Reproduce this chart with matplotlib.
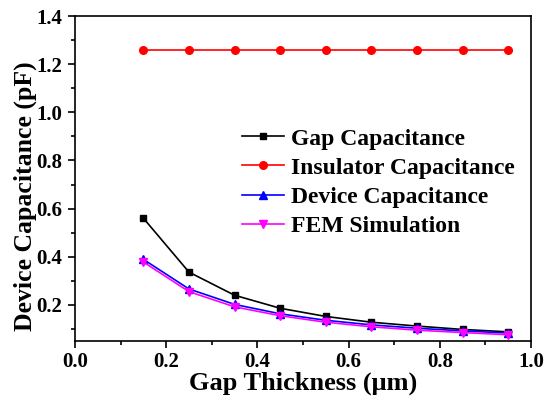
import matplotlib
matplotlib.use("Agg")
import matplotlib.pyplot as plt
from matplotlib.ticker import MultipleLocator

plt.rcParams['font.family'] = ['Liberation Serif', 'DejaVu Serif']
plt.rcParams['font.weight'] = 'bold'

# gap thickness (um)
gap = [0.15, 0.25, 0.35, 0.45, 0.55, 0.65, 0.75, 0.85, 0.95]
gap_cap = [0.560, 0.336, 0.240, 0.186, 0.152, 0.128, 0.112, 0.098, 0.088]
ins_cap = [1.26, 1.26, 1.26, 1.26, 1.26, 1.26, 1.26, 1.26, 1.26]
dev_cap = [0.389, 0.266, 0.202, 0.163, 0.136, 0.117, 0.103, 0.092, 0.083]
fem_sim = [0.378, 0.255, 0.192, 0.155, 0.128, 0.109, 0.095, 0.085, 0.076]

fig = plt.figure(figsize=(5.44, 4.0), dpi=100)
ax = fig.add_axes([75 / 544, 1 - 341 / 400, 456 / 544, 325 / 400])

ax.plot(gap, gap_cap, color="black", marker="s", ms=5, lw=1.2, label="Gap Capacitance")
ax.plot(gap, ins_cap, color="red", marker="o", ms=5.5, lw=1.2, label="Insulator Capacitance")
ax.plot(gap, dev_cap, color="blue", marker="^", ms=6, lw=1.2, label="Device Capacitance")
ax.plot(gap, fem_sim, color="magenta", marker="v", ms=6, lw=1.2, label="FEM Simulation")

ax.set_xlim(0.0, 1.0)
ax.set_ylim(0.05, 1.4)
ax.xaxis.set_major_locator(MultipleLocator(0.2))
ax.xaxis.set_minor_locator(MultipleLocator(0.1))
ax.yaxis.set_minor_locator(MultipleLocator(0.1))
ax.set_yticks([0.2, 0.4, 0.6, 0.8, 1.0, 1.2, 1.4])
ax.tick_params(which="both", direction="out", top=False, right=False, labelsize=15, width=1.2)
ax.tick_params(which="major", length=5, pad=4)
ax.tick_params(which="minor", length=3)
ax.tick_params(axis="x", which="major", pad=3)
for s in ax.spines.values():
    s.set_linewidth(1.2)

ax.set_xlabel("Gap Thickness (μm)", fontsize=19, fontweight="bold")
ax.set_ylabel("Device Capacitance (pF)", fontsize=18.5, fontweight="bold")
ax.xaxis.set_label_coords(0.5, -0.095)
ax.yaxis.set_label_coords(-0.083, 0.446)

ax.legend(loc="upper left", bbox_to_anchor=(0.366, 0.655), frameon=False,
          prop={"size": 17, "weight": "bold"}, handlelength=1.8, labelspacing=0.32,
          borderaxespad=0, borderpad=0, handletextpad=0.3)

fig.savefig("out.png", dpi=100)
